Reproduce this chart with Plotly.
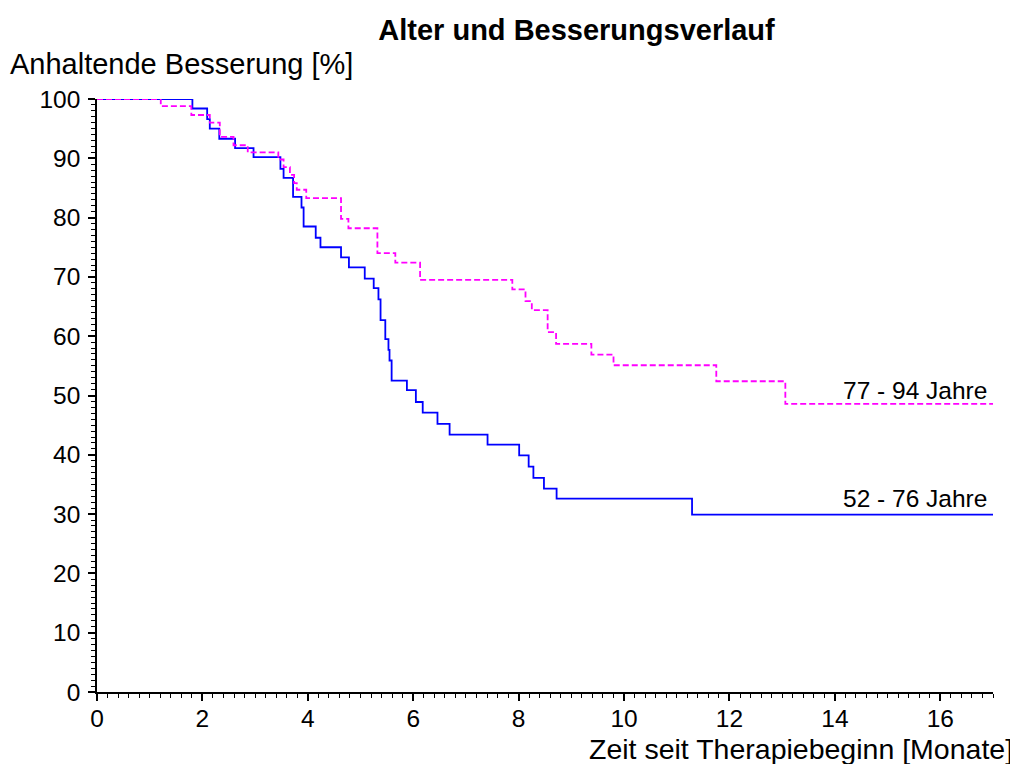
import plotly.graph_objects as go

# Kaplan-Meier Stufen
jung_zeit = [0, 1.81, 2.09, 2.14, 2.32, 2.62, 2.97, 3.48, 3.54, 3.72, 3.88, 3.92, 4.15, 4.24,
             4.63, 4.78, 5.08, 5.25, 5.34, 5.38, 5.47, 5.53, 5.55, 5.59, 5.88, 6.05, 6.18,
             6.46, 6.69, 7.41, 8.01, 8.19, 8.28, 8.48, 8.72, 11.29, 17]
jung_wert = [100, 98.4, 96.6, 95.0, 93.3, 91.7, 90.2, 88.2, 86.7, 83.5, 81.7, 78.5, 76.6, 75.0,
             73.3, 71.6, 69.7, 68.1, 66.2, 62.7, 59.5, 57.7, 55.9, 52.5, 50.9, 48.9, 47.1,
             45.2, 43.4, 41.7, 39.9, 38.0, 36.1, 34.3, 32.6, 29.9, 29.9]

alt_zeit = [0, 1.21, 1.79, 2.14, 2.33, 2.59, 2.86, 3.44, 3.54, 3.66, 3.74, 3.79, 3.97, 4.63,
            4.77, 5.32, 5.66, 6.13, 7.88, 8.13, 8.25, 8.55, 8.71, 9.38, 9.80, 11.75, 13.06, 17]
alt_wert = [100, 98.8, 97.3, 96.0, 93.6, 92.2, 91.0, 89.8, 88.5, 87.2, 85.8, 84.7, 83.3, 79.8,
            78.2, 74.0, 72.4, 69.5, 67.9, 65.9, 64.4, 60.7, 58.7, 56.9, 55.1, 52.4, 48.6, 48.6]

gruppen = ["52 - 76 Jahre", "77 - 94 Jahre"]
x_ticks = [0, 2, 4, 6, 8, 10, 12, 14, 16]
y_ticks = [0, 10, 20, 30, 40, 50, 60, 70, 80, 90, 100]

FONT = "Liberation Sans, Arial, sans-serif"

fig = go.Figure()
fig.add_trace(go.Scatter(x=jung_zeit, y=jung_wert, mode="lines", line_shape="hv",
                         line=dict(color="#0000FF", width=1.8), cliponaxis=False,
                         name=gruppen[0]))
fig.add_trace(go.Scatter(x=alt_zeit, y=alt_wert, mode="lines", line_shape="hv",
                         line=dict(color="#FF00FF", width=1.8, dash="6px,3px"),
                         cliponaxis=False, name=gruppen[1]))

# Beschriftung am Kurvenende
fig.add_annotation(x=16.92, y=alt_wert[-1] + 2.3, text=gruppen[1], showarrow=False,
                   xanchor="right", yanchor="middle", font=dict(size=24.5, color="black"))
fig.add_annotation(x=16.92, y=jung_wert[-1] + 2.8, text=gruppen[0], showarrow=False,
                   xanchor="right", yanchor="middle", font=dict(size=24.5, color="black"))

fig.add_annotation(xref="paper", yref="paper", x=-0.0993, y=1.059,
                   text="Anhaltende Besserung [%]", showarrow=False,
                   xanchor="left", yanchor="middle", font=dict(size=29, color="black"))
fig.add_annotation(xref="paper", yref="paper", x=1.0246, y=-0.0955,
                   text="Zeit seit Therapiebeginn [Monate]", showarrow=False,
                   xanchor="right", yanchor="middle", font=dict(size=28.5, color="black"))

# Seite hat 8px Rand, daher kleinere Figur
fig.update_layout(
    width=1010, height=756,
    margin=dict(l=89, r=25, t=91, b=72),
    paper_bgcolor="white", plot_bgcolor="white",
    showlegend=False,
    font=dict(family=FONT, color="black"),
    title=dict(text="<b>Alter und Besserungsverlauf</b>", x=0.5629, xanchor="center",
               y=0.9709, yanchor="middle", font=dict(size=29, color="black")),
)
fig.update_xaxes(range=[0, 17], tickvals=x_ticks, showgrid=False, zeroline=False,
                 showline=True, linecolor="black", linewidth=1.5,
                 ticks="outside", ticklen=7, tickwidth=1.5, tickcolor="black",
                 tickfont=dict(size=24.5), ticklabelstandoff=-3,
                 minor=dict(dtick=0.2, ticks="outside", ticklen=4, tickwidth=1.2,
                            tickcolor="black", showgrid=False))
fig.update_yaxes(range=[0, 100], tickvals=y_ticks, showgrid=False, zeroline=False,
                 showline=True, linecolor="black", linewidth=1.5,
                 ticks="outside", ticklen=7, tickwidth=1.5, tickcolor="black",
                 tickfont=dict(size=24.5), ticklabelstandoff=3,
                 minor=dict(dtick=1, ticks="outside", ticklen=4, tickwidth=1.2,
                            tickcolor="black", showgrid=False))

fig.write_html("out.html")
